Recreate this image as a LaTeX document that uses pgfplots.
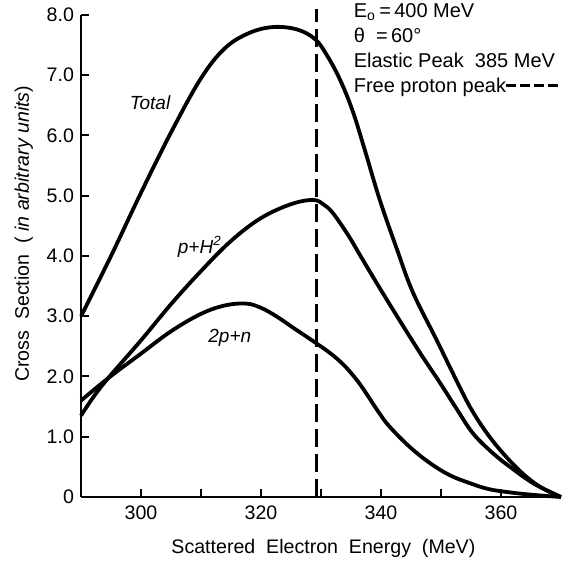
\documentclass[border=0pt]{standalone}
\usepackage{fontspec}
\setmainfont{Liberation Sans}
\usepackage{pgfplots}
\pgfplotsset{compat=1.18}
\begin{document}
\begin{tikzpicture}
\begin{axis}[
  scale only axis, width=240pt, height=241pt,
  xmin=290, xmax=370, ymin=0, ymax=8,
  axis x line*=bottom, axis y line*=left,
  axis line style={line width=1pt},
  xtick={300,320,340,360}, minor xtick={310,330,350},
  ytick={0,1,2,3,4,5,6,7,8},
  yticklabels={0,1.0,2.0,3.0,4.0,5.0,6.0,7.0,8.0},
  tick align=inside,
  major tick length=4pt, minor tick length=4pt,
  every tick/.style={line width=1pt, black},
  tick label style={font=\fontsize{9.8}{11}\selectfont},
  xticklabel style={yshift=-1pt},
  /pgf/number format/assume math mode=true,
  xlabel={Scattered\ \ Electron\ \ Energy\ \ (MeV)},
  ylabel={Cross\ \ Section\ \ ( \textit{in arbitrary units})},
  label style={font=\fontsize{9.8}{11}\selectfont},
  xlabel style={at={(axis description cs:0.505,-0.106)}, anchor=center},
  ylabel style={at={(axis description cs:-0.119,0.546)}, anchor=center},
  clip=false,
]
\addplot[black, line width=1.9pt, smooth, tension=0.6] coordinates {
(290,3.0) (295,4.0) (300,5.05) (305,6.05) (310,6.95) (314,7.45) (318,7.7)
(322,7.8) (326,7.76) (329,7.6) (331,7.33)
(333.2,6.92) (335.3,6.4) (337.3,5.76) (339.8,4.93) (342.7,4.1) (345.3,3.4)
(349.3,2.6) (352,2.05) (354.8,1.5) (357.5,1.08) (360.3,0.73) (363.5,0.4)
(366.5,0.17) (370,0)};
\addplot[black, line width=1.9pt, smooth, tension=0.6] coordinates {
(290,1.35) (292,1.65) (294.5,1.97) (300,2.6) (305,3.2) (310,3.75) (315,4.25)
(320,4.63) (325,4.86) (328.7,4.93) (330.5,4.85) (332,4.71)
(334.5,4.35) (337,3.93) (341,3.27) (346.2,2.44) (349.8,1.9) (352.5,1.48)
(355.3,1.06) (358.5,0.74) (361.5,0.5) (365.5,0.22) (370,0)};
\addplot[black, line width=1.9pt, smooth, tension=0.6] coordinates {
(290,1.6) (294.5,1.97) (300,2.38) (305,2.75) (310,3.04) (314,3.18) (317.5,3.21)
(320,3.14) (322.7,2.99)
(325.5,2.8) (328.5,2.6) (331.5,2.39) (333.7,2.2) (335.5,2.0) (337,1.8)
(339.8,1.38) (341.5,1.16) (344.8,0.83) (348.2,0.56) (351.5,0.36) (354.8,0.23)
(358,0.13) (362,0.07) (366,0.03) (370,0)};
\addplot[black, line width=1.5pt, dash pattern=on 9pt off 3.5pt] coordinates {(329.2,0) (329.2,8.1)};
\node[font=\itshape\fontsize{9.5}{11}\selectfont] at (axis cs:301.5,6.54) {Total};
\node[font=\itshape\fontsize{9.5}{11}\selectfont] at (axis cs:309.8,4.15) {p+H\textsuperscript{2}};
\node[font=\itshape\fontsize{9.5}{11}\selectfont] at (axis cs:314.8,2.64) {2p+n};
\node[anchor=north west, inner sep=0pt, align=left, font=\fontsize{10}{12.5}\selectfont]
  at (axis cs:335.4,8.2) {E\textsubscript{o}\,=\,400 MeV\\ θ\ \ =\,60°\\ Elastic\ Peak\ \ 385 MeV\\ Free proton peak\rule[2.8pt]{5pt}{1.3pt}\hspace{2pt}\rule[2.8pt]{5pt}{1.3pt}\hspace{2pt}\rule[2.8pt]{5pt}{1.3pt}\hspace{2pt}\rule[2.8pt]{5pt}{1.3pt}};
\coordinate (O) at (axis cs:290,0);
\coordinate (T) at (axis cs:370,8);
\end{axis}
\pgfresetboundingbox
\path ([xshift=-40.5pt,yshift=-33pt]O) rectangle ([xshift=0.5pt,yshift=7.5pt]T);
\end{tikzpicture}
\end{document}
